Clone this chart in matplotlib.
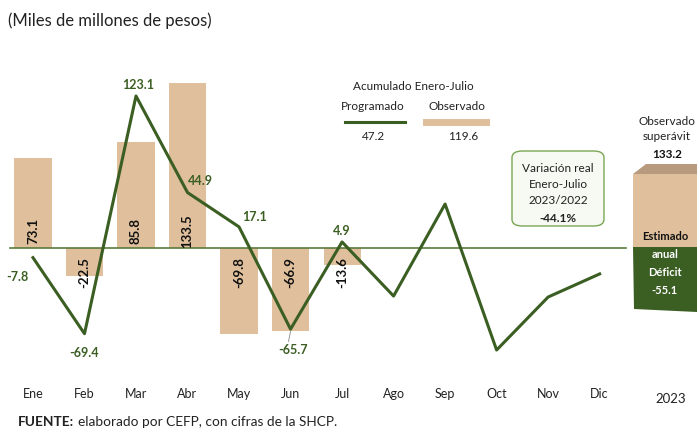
import numpy as np
import matplotlib.pyplot as plt
from matplotlib.patches import Polygon, FancyBboxPatch

plt.rcParams['font.family'] = ['Lato', 'DejaVu Sans']

meses = ['Ene', 'Feb', 'Mar', 'Abr', 'May', 'Jun', 'Jul', 'Ago', 'Sep', 'Oct', 'Nov', 'Dic']
observado = [73.1, -22.5, 85.8, 133.5, -69.8, -66.9, -13.6]
programado = [-7.8, -69.4, 123.1, 44.9, 17.1, -65.7, 4.9, -38.9, 35.6, -82.6, -39.7, -21.0]
prog_labels = ['-7.8', '-69.4', '123.1', '44.9', '17.1', '-65.7', '4.9']
acum_prog = 47.2
acum_obs = 119.6
variacion = -44.1
sup_obs = 133.2
def_est = -55.1

verde = '#3b5e22'
tan = '#dfbf9c'

fig = plt.figure(figsize=(6.97, 4.34), dpi=100)
ax = fig.add_axes([0, 0, 1, 1])
# full-figure axes: x = month index, y = value
ax.set_xlim(-0.64, 12.89)
ax.set_ylim(-150.6, 200.8)
ax.axis('off')

x = np.arange(len(meses))
xo = np.arange(len(observado))

ax.bar(xo, observado, width=0.72, color=tan, zorder=1)
ax.plot([-0.45, 11.51], [0, 0], color='#5a7a3a', lw=1.2, zorder=2)
ax.plot(x, programado, color=verde, lw=2.2, zorder=3)

# bar labels (rotated)
for i, v in enumerate(observado):
    yl = 14 if v > 0 else -20
    ax.text(i, yl, f'{v}', rotation=90, ha='center', va='center',
            fontsize=9.5, fontweight='bold', color='#111111', zorder=4)

# line labels
offs = [(-0.3, -16), (0, -16), (0.05, 9), (0.25, 9), (0.3, 8), (0.05, -17), (0.0, 9)]
for i, lab in enumerate(prog_labels):
    dx, dy = offs[i]
    ax.text(i + dx, programado[i] + dy, lab, ha='center', va='center',
            fontsize=9, fontweight='bold', color=verde, zorder=5)
ax.plot([5, 4.96], [programado[5] - 2, programado[5] - 10], color='#999999', lw=0.7)

# month labels
for i, m in enumerate(meses):
    ax.text(i, -118, m, ha='center', va='center', fontsize=9, color='#222222')
fig.text(0.962, 0.08, '2023', ha='center', va='center', fontsize=9.5, color='#222222')

# title and source
fig.text(0.012, 0.953, '(Miles de millones de pesos)', ha='left', va='center',
         fontsize=12, color='#222222')
src_b = fig.text(0.025, 0.027, 'FUENTE:', ha='left', va='center', fontsize=9.8,
                 fontweight='bold', color='#222222')
fig.canvas.draw()
bb = src_b.get_window_extent().transformed(fig.transFigure.inverted())
fig.text(bb.x1 + 0.006, 0.027, 'elaborado por CEFP, con cifras de la SHCP.',
         ha='left', va='center', fontsize=9.8, color='#222222')

# legend block
def fx(px):
    return px / 697

def fy(py):
    return 1 - py / 434

fig.text(fx(413), fy(87), 'Acumulado Enero-Julio', ha='center', va='center', fontsize=8.5, color='#222222')
fig.text(fx(373), fy(107), 'Programado', ha='center', va='center', fontsize=8.5, color='#222222')
fig.text(fx(457), fy(106), 'Observado', ha='center', va='center', fontsize=8.5, color='#222222')
fig.add_artist(plt.Line2D([fx(345), fx(405)], [fy(122), fy(122)], color=verde, lw=2.2))
fig.add_artist(plt.Line2D([fx(426), fx(486)], [fy(122), fy(122)], color=tan, lw=5))
fig.text(fx(373), fy(137), f'{acum_prog}', ha='center', va='center', fontsize=8.5, color='#222222')
fig.text(fx(463), fy(137), f'{acum_obs}', ha='center', va='center', fontsize=8.5, color='#222222')

# variation box
box = FancyBboxPatch((fx(512), fy(226)), fx(92), fy(151) - fy(226),
                     boxstyle='round,pad=0,rounding_size=0.015', transform=fig.transFigure,
                     facecolor='#f6faf2', edgecolor='#7aa654', lw=1.0)
fig.add_artist(box)
for py, t, w in [(168, 'Variación real', 'normal'), (185, 'Enero-Julio', 'normal'),
                 (201, '2023/2022', 'normal'), (218, f'{variacion}%', 'bold')]:
    fig.text(fx(558), fy(py), t, ha='center', va='center', fontsize=8.5,
             fontweight=w, color='#222222')

# 3D box on the right
top = Polygon([(fx(633), fy(174)), (fx(646), fy(164)), (fx(697), fy(164)), (fx(697), fy(174))],
              closed=True, transform=fig.transFigure, facecolor='#b89a7e', edgecolor='none')
front_tan = Polygon([(fx(633), fy(174)), (fx(697), fy(174)), (fx(697), fy(247)), (fx(633), fy(247))],
                    closed=True, transform=fig.transFigure, facecolor=tan, edgecolor='none')
front_grn = Polygon([(fx(633), fy(247)), (fx(697), fy(247)), (fx(697), fy(312)), (fx(634), fy(309))],
                    closed=True, transform=fig.transFigure, facecolor=verde, edgecolor='none')
for p in (top, front_tan, front_grn):
    fig.add_artist(p)
fig.text(fx(667), fy(121), 'Observado', ha='center', va='center', fontsize=8.5, color='#222222')
fig.text(fx(667), fy(137), 'superávit', ha='center', va='center', fontsize=8.5, color='#222222')
fig.text(fx(667), fy(155), f'{sup_obs}', ha='center', va='center', fontsize=8.5,
         fontweight='bold', color='#111111')
fig.text(fx(665), fy(236), 'Estimado', ha='center', va='center', fontsize=8,
         fontweight='bold', color='#111111')
for py, t in [(254, 'anual'), (272, 'Déficit'), (290, f'{def_est}')]:
    fig.text(fx(665), fy(py), t, ha='center', va='center', fontsize=8,
             fontweight='bold', color='white')

fig.savefig('out.png', dpi=100)
